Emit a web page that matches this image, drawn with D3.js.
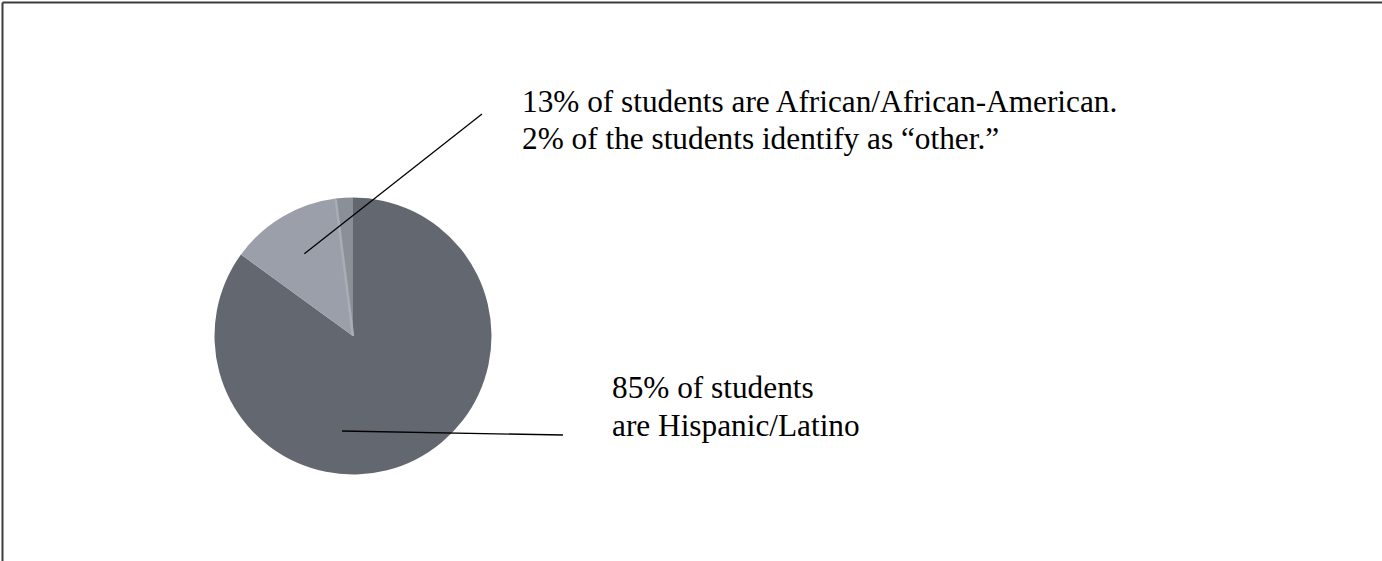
<!DOCTYPE html>
<html>
<head>
<meta charset="utf-8">
<script src="https://cdn.jsdelivr.net/npm/d3@7"></script>
<style>
  html, body { margin: 0; padding: 0; background: #fff; }
  svg { display: block; }
</style>
</head>
<body>
<svg id="chart" width="1382" height="561"></svg>
<script>
// ---- data ----
const categories = ["Hispanic/Latino", "African/African-American", "Other"];
const percents = [85, 13, 2];
const sliceColors = ["#636770", "#9b9fa9", "#8b8f98"];
const labelLines1 = ["13% of students are African/African-American.", "2% of the students identify as \u201cother.\u201d"];
const labelLines2 = ["85% of students", "are Hispanic/Latino"];

const W = 1382, H = 561;
const svg = d3.select("#chart");

// frame (top and left edges)
svg.append("line").attr("x1", 2.5).attr("y1", 2.5).attr("x2", W).attr("y2", 2.5)
  .attr("stroke", "#3c3c3c").attr("stroke-width", 2);
svg.append("line").attr("x1", 2.5).attr("y1", 2.5).attr("x2", 2.5).attr("y2", H)
  .attr("stroke", "#3c3c3c").attr("stroke-width", 2);

const cx = 353, cy = 336, R = 138.5;
const data = categories.map((c, i) => ({ name: c, value: percents[i], color: sliceColors[i] }));
const pie = d3.pie().value(d => d.value).sort(null);
const arcs = pie(data);
const arc = d3.arc().innerRadius(0).outerRadius(R);

const g = svg.append("g").attr("transform", `translate(${cx},${cy})`);
g.selectAll("path.slice").data(arcs).enter().append("path")
  .attr("class", "slice")
  .attr("d", arc)
  .attr("fill", d => d.data.color);

// light separator between "African" and "Other" slices
const sepAngle = arcs[2].startAngle;
g.append("line")
  .attr("x1", 0).attr("y1", 0)
  .attr("x2", Math.sin(sepAngle) * (R - 1))
  .attr("y2", -Math.cos(sepAngle) * (R - 1))
  .attr("stroke", "#a9adb5").attr("stroke-width", 2.5);

// leader lines
const mid1 = (arcs[1].startAngle + arcs[1].endAngle) / 2;
const p1 = [cx + Math.sin(mid1) * R * 0.69, cy - Math.cos(mid1) * R * 0.69];
svg.append("line").attr("x1", p1[0]).attr("y1", p1[1]).attr("x2", 482).attr("y2", 114)
  .attr("stroke", "#000").attr("stroke-width", 1.3);
svg.append("line").attr("x1", 342).attr("y1", 431).attr("x2", 563).attr("y2", 435)
  .attr("stroke", "#000").attr("stroke-width", 1.3);

// labels
const font = "'Liberation Serif', 'Times New Roman', Times, serif";
const t1 = svg.append("text").attr("font-family", font).attr("font-size", 31.3).attr("fill", "#000");
labelLines1.forEach((s, i) => t1.append("tspan").attr("x", 522).attr("y", 112 + i * 36.5).text(s));
const t2 = svg.append("text").attr("font-family", font).attr("font-size", 31.3).attr("fill", "#000");
labelLines2.forEach((s, i) => t2.append("tspan").attr("x", 612).attr("y", 398 + i * 37.5).text(s));
</script>
</body>
</html>
